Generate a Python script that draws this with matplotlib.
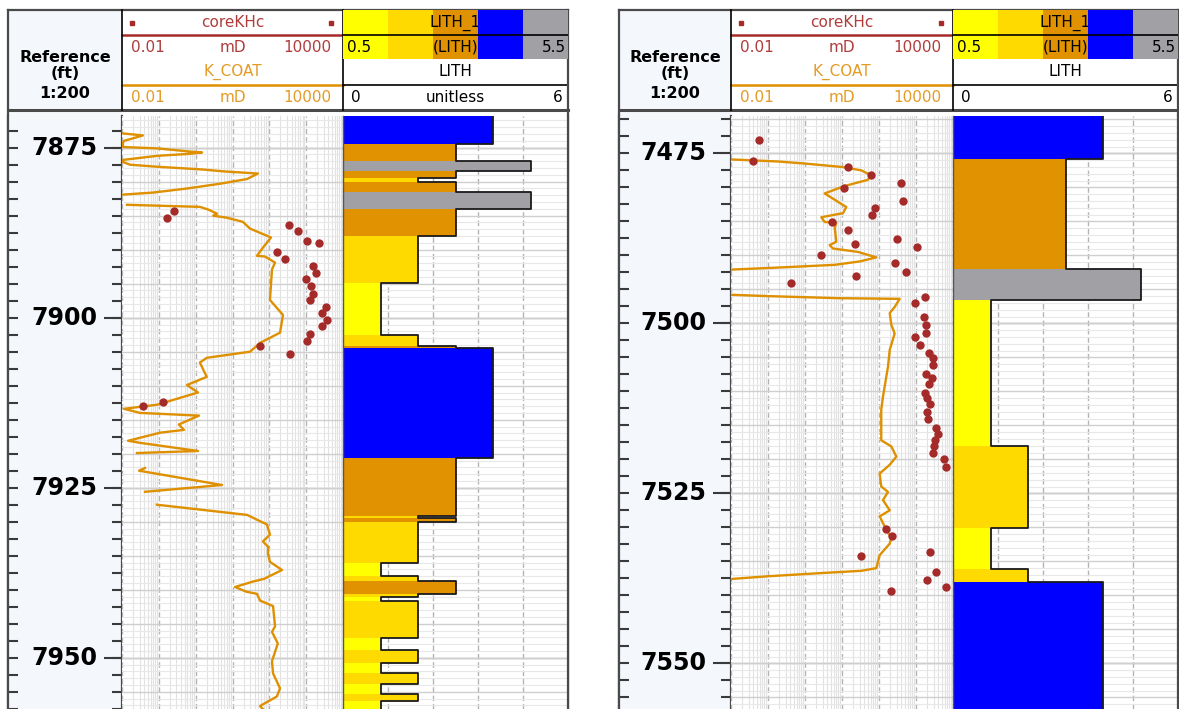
import numpy as np
import matplotlib
matplotlib.use('Agg')
import matplotlib.pyplot as plt
from matplotlib.patches import Rectangle
from matplotlib.ticker import MultipleLocator, LogLocator

W, H = 1179, 709
nan = np.nan

# ---------------- data: left well ----------------
L_KCOAT_DEPTH = [7872.9, 7873.2, 7874.0, 7874.3, 7874.9, 7875.1, 7875.6, 7875.7, 7875.9, 7876.2,
                 7876.8, 7877.1, 7877.5, 7877.8, 7878.2, 7878.5, 7878.8, 7879.6, 7880.3, 7881.0,
                 7881.6, 7881.9, nan,
                 7883.4, 7883.7, 7884.1, 7884.7, 7885.0, 7885.3, 7885.9, 7886.9, 7888.2, 7889.7,
                 7890.9, 7891.0, 7891.9, 7892.9, 7897.4, 7899.6, 7902.2, 7903.7, 7905.0, 7905.9,
                 7906.6, 7908.7, 7909.9, 7911.0, 7912.8, 7913.4, 7914.0, 7914.4, 7915.7, 7916.5,
                 7916.9, 7918.1, 7918.4, 7919.6, 7919.9, nan,
                 7922.1, 7922.5, 7924.6, 7925.6, nan,
                 7927.5, 7928.0, 7929.0, 7929.7, 7930.4, 7931.9, 7932.9, 7933.7, 7934.7, 7935.9,
                 7937.1, 7938.4, 7938.8, 7939.6, 7940.3, 7940.6, 7941.6, 7942.4, 7945.4, 7946.2,
                 7947.9, 7950.5, 7952.3, 7954.5, 7955.7, 7957.1, 7957.9]
L_KCOAT_K = [0.0106, 0.037, 0.0113, 0.0106, 0.0106, 0.089, 0.80, 1.49, 0.70, 0.089,
             0.0106, 0.0106, 0.0165, 0.089, 1.49, 6.3, 49, 25, 4.6, 0.58,
             0.07, 0.0106, nan,
             0.0137, 1.3, 2.2, 3.8, 3.0, 7.1, 19, 30, 111, 67,
             46, 76, 143, 118, 104, 235, 195, 56, 30, 2.0,
             1.3, 2.0, 0.58, 1.16, 0.089, 0.0113, 0.031, 1.23, 0.35, 0.48,
             0.11, 0.0146, 0.031, 1.16, 0.0255, nan,
             0.042, 0.029, 5.2, 0.042, nan,
             0.089, 0.58, 25, 46, 86, 104, 67, 93, 92, 104,
             221, 72, 36, 11.7, 24, 46, 56, 126, 143, 118,
             170, 118, 126, 195, 160, 56, 76]

L_CORE_DEPTH = [7884.3, 7885.3, 7886.3, 7887.2, 7888.7, 7889.0, 7890.3, 7891.3, 7892.4, 7893.4,
                7894.3, 7895.3, 7896.5, 7897.4, 7898.4, 7899.3, 7900.3, 7901.2, 7902.4, 7903.4,
                7904.1, 7905.3, 7912.4, 7913.0]
L_CORE_K = [0.26, 0.17, 342, 600, 1050, 2230, 162, 267, 1535, 1850,
            990, 1356, 1535, 1270, 3460, 2690, 3680, 2690, 1270, 1050,
            56, 364, 0.127, 0.037]

L_LITH_TOP = [7869.0, 7874.4, 7876.9, 7878.5, 7879.4, 7880.0, 7881.5, 7884.0, 7888.0, 7894.9,
              7902.6, 7904.2, 7904.5, 7920.6, 7929.1, 7929.5, 7930.1, 7936.1, 7938.0, 7938.7,
              7940.6, 7941.1, 7941.6, 7947.1, 7948.8, 7950.8, 7952.3, 7953.8, 7955.4, 7956.4]
L_LITH_CODE = [4, 3, 5, 3, 2, 3, 5, 3, 2, 1,
               2, 3, 4, 3, 2, 3, 2, 1, 2, 3,
               2, 1, 2, 1, 2, 1, 2, 1, 2, 1]
L_LITH_BASE = 7959.0

# ---------------- data: right well ----------------
R_KCOAT_DEPTH = [7475.9, 7476.2, 7476.5, 7477.0, 7477.5, 7478.2, 7478.9, 7479.8, 7480.9, 7482.9,
                 7483.8, 7484.4, 7485.1, 7485.2, 7486.0, 7488.0, 7488.5, 7489.0, 7489.5, 7490.3,
                 7490.9, 7491.4, 7491.8, 7492.1, nan,
                 7495.8, 7496.0, 7496.3, 7496.4, 7497.6, 7498.5, 7500.2, 7501.5, 7503.9, 7506.4,
                 7507.9, 7510.8, 7512.7, 7516.2, 7517.2, 7518.1, 7519.6, 7520.8, 7522.1, 7524.0,
                 7524.8, 7526.0, 7527.5, 7528.4, 7529.9, 7531.6, 7532.4, 7534.1, 7536.0, 7536.4,
                 7536.7, 7537.2, 7537.6]
R_KCOAT_K = [0.01, 0.186, 0.98, 9.6, 33, 60, 50, 11.8, 3.4, 13.1,
             10.6, 2.76, 3.4, 7.0, 6.35, 7.0, 4.65, 5.7, 27, 84.5,
             30, 6.35, 0.186, 0.01, nan,
             0.01, 0.1, 7.8, 362, 265, 195, 215, 265, 195, 175,
             157, 128, 115, 115, 115, 215, 294, 195, 104, 115,
             175, 128, 195, 104, 143, 215, 195, 104, 85, 33,
             3.4, 0.1, 0.01]

R_CORE_DEPTH = [7473.0, 7476.1, 7477.0, 7478.2, 7479.3, 7480.1, 7482.0, 7483.0, 7484.1, 7485.1,
                7486.3, 7487.6, 7488.3, 7488.8, 7489.9, 7491.2, 7492.5, 7493.0, 7494.1, 7496.2,
                7497.0, 7499.1, 7500.3, 7501.4, 7502.0, 7503.2, 7504.3, 7505.1, 7506.2, 7507.5,
                7508.1, 7508.9, 7510.2, 7511.0, 7511.9, 7513.1, 7514.1, 7515.4, 7516.3, 7517.2,
                7518.1, 7519.1, 7520.0, 7521.2, 7530.2, 7531.3, 7533.6, 7534.2, 7536.5, 7537.8,
                7538.8, 7539.4]
R_CORE_K = [0.056, 0.039, 14.5, 60, 401, 11.1, 446, 77, 65, 5.5,
            14.5, 313, 22, 1084, 2.76, 265, 547, 24.3, 0.43, 1718,
            923, 1615, 1897, 1897, 923, 1306, 2203, 2937, 2877, 1897,
            2624, 2203, 1698, 1982, 2344, 1982, 2148, 3518, 3934, 3327,
            3027, 2937, 5888, 6546, 155, 218, 2449, 32, 3428, 2017,
            6471, 205]

R_LITH_TOP = [7468.0, 7475.9, 7492.0, 7496.6, 7518.1, 7530.1, 7536.2, 7538.1]
R_LITH_CODE = [4, 3, 5, 1, 2, 1, 2, 4]
R_LITH_BASE = 7560.0

LITH_COLORS = {1: '#ffff00', 2: '#ffda00', 3: '#e09200', 4: '#0000ff', 5: '#a0a0a5'}

CORE_COLOR = '#a52a2a'
CORE_TEXT = '#b03c3c'
KCOAT_COLOR = '#de9000'
KCOAT_TEXT = '#e39b25'
DEPTH_BG = '#f4f8fd'
FRAME = '#4a4a4a'
HDR_FS = 11


def px_axes(fig, x0, y0, x1, y1):
    return fig.add_axes([x0 / W, 1 - y1 / H, (x1 - x0) / W, (y1 - y0) / H])


def track_grid(ax):
    ax.yaxis.set_major_locator(MultipleLocator(5))
    ax.yaxis.set_minor_locator(MultipleLocator(1))
    ax.grid(True, which='major', axis='y', color='#cfcfcf', lw=1.0)
    ax.grid(True, which='minor', axis='y', color='#e8e8e8', lw=0.8)
    lo, hi = sorted(ax.get_ylim())
    for d in np.arange(np.ceil(lo / 25) * 25, hi, 25):
        ax.axhline(d, color='#ababab', lw=1.0, zorder=0.5)
    ax.set_axisbelow(True)
    ax.tick_params(which='both', length=0, labelbottom=False, labelleft=False)


def draw_panel(fig, bg, x0, xd, xt, x1, dtop, dbot, kc_d, kc_k, co_d, co_k,
               lith_top, lith_code, lith_base, unitless=True):
    ytop = 116
    # ---- header ----
    bg.add_patch(Rectangle((x0, 10), xd - x0, H - 10, fc=DEPTH_BG, ec='none', zorder=0))
    xc_d = (x0 + xd) / 2
    for txt, yy in [('Reference', 57), ('(ft)', 74), ('1:200', 94)]:
        bg.text(xc_d, yy, txt, ha='center', va='center', fontsize=11.5, fontweight='bold')

    xc = (xd + xt) / 2
    bg.text(xc, 22.5, 'coreKHc', ha='center', va='center', fontsize=HDR_FS, color=CORE_TEXT)
    bg.plot([xd + 10, xt - 12], [22.5, 22.5], 's', ms=3.5, color=CORE_COLOR, ls='none')
    bg.plot([xd, xt], [34.5, 34.5], color=CORE_COLOR, lw=1.8)
    bg.text(xc, 72, 'K_COAT', ha='center', va='center', fontsize=HDR_FS, color=KCOAT_TEXT)
    bg.plot([xd, xt], [84.5, 84.5], color=KCOAT_COLOR, lw=1.8)
    for yy, col in [(47, CORE_TEXT), (97, KCOAT_TEXT)]:
        bg.text(xd + 9, yy, '0.01', ha='left', va='center', fontsize=HDR_FS, color=col)
        bg.text(xc, yy, 'mD', ha='center', va='center', fontsize=HDR_FS, color=col)
        bg.text(xt - 12, yy, '10000', ha='right', va='center', fontsize=HDR_FS, color=col)

    # lith colour scale in header
    hx = px_axes(fig, xt, 10, x1, 59)
    hx.set_xlim(0.5, 5.5)
    hx.set_ylim(0, 1)
    hx.axis('off')
    for code, col in LITH_COLORS.items():
        hx.axvspan(code - 0.5, code + 0.5, color=col, lw=0, zorder=3 if code == 4 else 1)
    hx.axhline(1 - 24.5 / 49, color='black', lw=1.2, zorder=5)
    hx.text(3, 1 - 12.5 / 49, 'LITH_1', ha='center', va='center', fontsize=HDR_FS, zorder=2)
    hx.text(3, 1 - 37 / 49, '(LITH)', ha='center', va='center', fontsize=HDR_FS, zorder=2)
    hx.text(0.58, 1 - 37 / 49, '0.5', ha='left', va='center', fontsize=HDR_FS, zorder=4)
    hx.text(5.45, 1 - 37 / 49, '5.5', ha='right', va='center', fontsize=HDR_FS, zorder=4)
    xl = (xt + x1) / 2
    bg.text(xl, 72, 'LITH', ha='center', va='center', fontsize=HDR_FS)
    bg.plot([xt, x1], [84.5, 84.5], color='black', lw=1.2)
    bg.text(xt + 8, 97, '0', ha='left', va='center', fontsize=HDR_FS)
    if unitless:
        bg.text(xl, 97, 'unitless', ha='center', va='center', fontsize=HDR_FS)
    bg.text(x1 - 5, 97, '6', ha='right', va='center', fontsize=HDR_FS)

    # frame lines
    bg.plot([x0, x1], [10, 10], color=FRAME, lw=1.6)
    bg.plot([x0, x1], [110, 110], color=FRAME, lw=2.2)
    for xx in (xd, xt):
        bg.plot([xx, xx], [10, 110], color='black', lw=1.2)
    for xx in (x0, x1):
        bg.plot([xx, xx], [10, H], color=FRAME, lw=1.6)

    # ---- depth column ----
    dax = px_axes(fig, x0, ytop, xd, H)
    dax.set_zorder(1)
    dax.set_facecolor(DEPTH_BG)
    dax.set_xlim(0, 1)
    dax.set_ylim(dbot, dtop)
    dax.set_xticks([])
    dax.yaxis.set_major_locator(MultipleLocator(25))
    dax.yaxis.set_minor_locator(MultipleLocator(2.5))
    dax.yaxis.remove_overlapping_locs = False
    dax.tick_params(axis='y', which='minor', direction='in', left=True, right=True,
                    length=7, width=1.5, color='#3a3a3a')
    dax.tick_params(axis='y', which='major', direction='in', left=False, right=True,
                    length=13, width=1.5, color='#3a3a3a', labelleft=False, labelright=False)
    for s in ('top', 'bottom'):
        dax.spines[s].set_visible(False)
    for s in ('left', 'right'):
        dax.spines[s].set_color(FRAME)
        dax.spines[s].set_linewidth(1.6)
    lab_x = (xd - 25 - x0) / (xd - x0)
    for d in np.arange(np.ceil(dtop / 25) * 25, dbot, 25):
        dax.text(lab_x, d, f'{d:.0f}', transform=dax.get_yaxis_transform(),
                 ha='right', va='center', fontsize=17, fontweight='bold')

    # ---- permeability track ----
    kax = px_axes(fig, xd, ytop, xt, H)
    kax.set_zorder(1)
    kax.set_xscale('log')
    kax.set_xlim(0.01, 10000)
    kax.set_ylim(dbot, dtop)
    kax.xaxis.set_major_locator(LogLocator(base=10, numticks=20))
    kax.xaxis.set_minor_locator(LogLocator(base=10, subs=np.arange(2, 10), numticks=20))
    kax.grid(True, which='major', axis='x', color='#b4b4b4', lw=1.0, ls=(0, (4, 2)))
    kax.grid(True, which='minor', axis='x', color='#e2e2e2', lw=0.8)
    track_grid(kax)
    for s in kax.spines.values():
        s.set_visible(False)
    kax.plot(kc_k, kc_d, color=KCOAT_COLOR, lw=1.7, zorder=3)
    kax.plot(co_k, co_d, 'o', ms=6, color=CORE_COLOR, mec='none', zorder=4, clip_on=True)

    # ---- lithology track ----
    lax = px_axes(fig, xt, ytop, x1, H)
    lax.set_zorder(1)
    lax.set_xlim(0, 6)
    lax.set_ylim(dbot, dtop)
    lax.xaxis.set_major_locator(MultipleLocator(1.2))
    lax.grid(True, which='major', axis='x', color='#b4b4b4', lw=1.0, ls=(0, (4, 2)))
    track_grid(lax)
    for s in ('top', 'bottom'):
        lax.spines[s].set_visible(False)
    lax.spines['left'].set_color('#555555')
    lax.spines['left'].set_linewidth(1.0)
    lax.spines['right'].set_color(FRAME)
    lax.spines['right'].set_linewidth(1.6)
    bounds = list(lith_top) + [lith_base]
    tops = np.array(bounds[:-1])
    thick = np.diff(bounds)
    lax.barh(tops, lith_code, height=thick, left=0, align='edge',
             color=[LITH_COLORS[c] for c in lith_code], edgecolor='none', zorder=2)
    xs, ys = [], []
    for i, c in enumerate(lith_code):
        xs += [c, c]
        ys += [bounds[i], bounds[i + 1]]
    lax.plot(xs, ys, color='#1a1a1a', lw=1.3, zorder=3)


fig = plt.figure(figsize=(W / 100, H / 100), dpi=100)
bg = fig.add_axes([0, 0, 1, 1])
bg.set_xlim(0, W)
bg.set_ylim(H, 0)
bg.axis('off')
bg.set_zorder(0)

draw_panel(fig, bg, 8, 122, 343, 568, 7870.34, 7957.54,
           L_KCOAT_DEPTH, L_KCOAT_K, L_CORE_DEPTH, L_CORE_K,
           L_LITH_TOP, L_LITH_CODE, L_LITH_BASE, unitless=True)
draw_panel(fig, bg, 619, 731, 953, 1178, 7469.51, 7556.72,
           R_KCOAT_DEPTH, R_KCOAT_K, R_CORE_DEPTH, R_CORE_K,
           R_LITH_TOP, R_LITH_CODE, R_LITH_BASE, unitless=False)

fig.savefig('out.png', dpi=100)
